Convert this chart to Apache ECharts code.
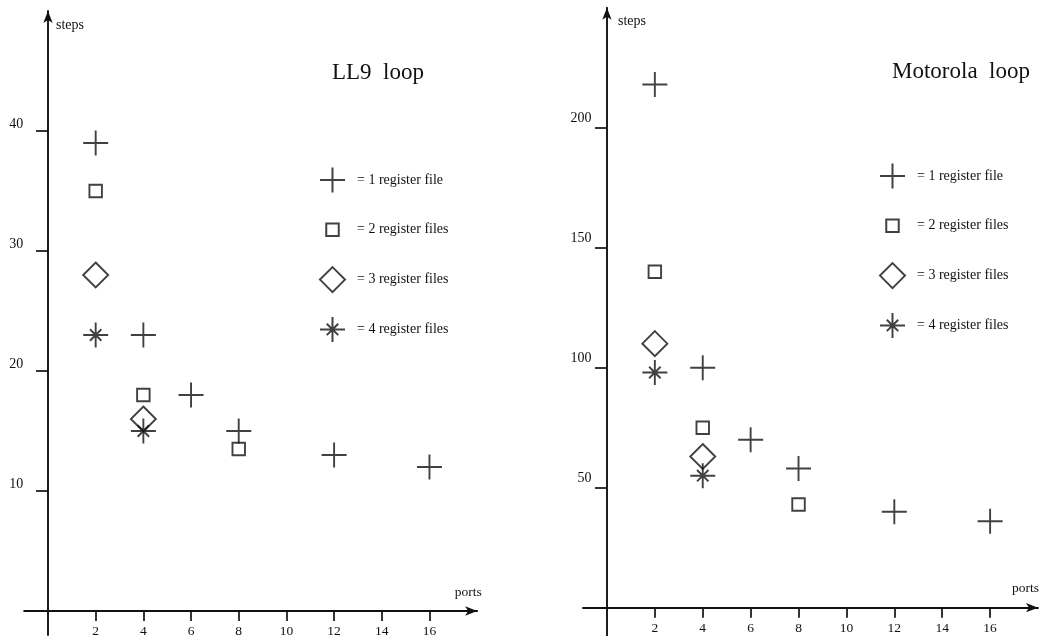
<!DOCTYPE html>
<html>
<head>
<meta charset="utf-8">
<script src="https://cdn.jsdelivr.net/npm/echarts@6/dist/echarts.min.js"></script>
<style>html,body{margin:0;padding:0;background:#fff}#c{width:1044px;height:636px}</style>
</head>
<body>
<div id="c"></div>
<script>
// ---- data ----
const seriesNames = ['= 1 register file', '= 2 register files', '= 3 register files', '= 4 register files'];
const titleLeft = 'LL9  loop';
const titleRight = 'Motorola  loop';
const xTicks = [2, 4, 6, 8, 10, 12, 14, 16];
const yTicksLeft = [10, 20, 30, 40];
const yTicksRight = [50, 100, 150, 200];

// LL9 loop
const ll9Rf1Ports = [2, 4, 6, 8, 12, 16];
const ll9Rf1Steps = [39, 23, 18, 15, 13, 12];
const ll9Rf2Ports = [2, 4, 8];
const ll9Rf2Steps = [35, 18, 13.5];
const ll9Rf3Ports = [2, 4];
const ll9Rf3Steps = [28, 16];
const ll9Rf4Ports = [2, 4];
const ll9Rf4Steps = [23, 15];

// Motorola loop
const motRf1Ports = [2, 4, 6, 8, 12, 16];
const motRf1Steps = [218, 100, 70, 58, 40, 36];
const motRf2Ports = [2, 4, 8];
const motRf2Steps = [140, 75, 43];
const motRf3Ports = [2, 4];
const motRf3Steps = [110, 63];
const motRf4Ports = [2, 4];
const motRf4Steps = [98, 55];

// ---- style ----
const FONT = '"Liberation Serif", "DejaVu Serif", serif';
const INK = '#111';
const SYMBOLS = [
  'path://M0,12H24M12,0V24',
  'path://M0,0M24,24M6,6H18V18H6Z',
  'path://M12,0L24,12L12,24L0,12Z',
  'path://M0,12H24M12,0V24M6.5,6.5L17.5,17.5M17.5,6.5L6.5,17.5'
];

function mkSeries(idx, xs, ys, gi) {
  return {
    type: 'scatter',
    name: seriesNames[idx],
    xAxisIndex: gi, yAxisIndex: gi,
    symbol: SYMBOLS[idx],
    symbolSize: 25,
    itemStyle: { color: 'rgba(255,255,255,0)', borderColor: INK, borderWidth: 1.9 },
    emphasis: { disabled: true },
    data: xs.map((x, i) => [x, ys[i]])
  };
}

function mkX(gi, nameGap, labelMargin) {
  return {
    type: 'value', gridIndex: gi, min: -1, max: 18,
    name: 'ports', nameLocation: 'end', nameGap: nameGap,
    nameTextStyle: { fontFamily: FONT, fontSize: 13.5, color: INK, align: 'right', verticalAlign: 'bottom', padding: [0, 0, 12, 0] },
    axisLine: { onZero: true, lineStyle: { color: INK, width: 1.9 }, symbol: ['none', 'arrow'], symbolSize: [7, 12] },
    axisTick: { show: true, inside: false, length: 10, lineStyle: { color: INK, width: 1.7 }, customValues: xTicks },
    axisLabel: { fontFamily: FONT, fontSize: 13.5, color: INK, margin: labelMargin, customValues: xTicks },
    splitLine: { show: false }
  };
}

function mkY(gi, min, max, ticks, labelMargin, padBottom, namePad, nameGap) {
  return {
    type: 'value', gridIndex: gi, min: min, max: max,
    name: 'steps', nameLocation: 'end', nameGap: nameGap,
    nameTextStyle: { fontFamily: FONT, fontSize: 14, color: INK, align: 'left', verticalAlign: 'top', padding: [0, 0, 0, namePad] },
    axisLine: { onZero: true, lineStyle: { color: INK, width: 1.9 }, symbol: ['none', 'arrow'], symbolSize: [7, 12] },
    axisTick: { show: true, inside: false, length: 12, lineStyle: { color: INK, width: 1.7 }, customValues: ticks },
    axisLabel: { fontFamily: FONT, fontSize: 14, color: INK, margin: labelMargin, verticalAlign: 'bottom', padding: [0, 0, padBottom, 0], customValues: ticks },
    splitLine: { show: false }
  };
}

const legendText = { fontFamily: FONT, fontSize: 14, color: INK, padding: [0, 0, 0, 7] };

const option = {
  backgroundColor: '#fff',
  animation: false,
  title: [
    { text: titleLeft, left: 327, top: 56, textStyle: { fontFamily: FONT, fontSize: 23, fontWeight: 'normal', color: INK } },
    { text: titleRight, left: 887, top: 55, textStyle: { fontFamily: FONT, fontSize: 23, fontWeight: 'normal', color: INK } }
  ],
  legend: [
    { orient: 'vertical', left: 314, top: 161.5, itemWidth: 25, itemHeight: 25, itemGap: 22.8, selectedMode: false, textStyle: legendText, data: seriesNames },
    { orient: 'vertical', left: 874, top: 157.5, itemWidth: 25, itemHeight: 25, itemGap: 22.8, selectedMode: false, textStyle: legendText, data: seriesNames }
  ],
  grid: [
    { left: 24.15, top: 11, width: 453, height: 624, containLabel: false, outerBoundsMode: 'none' },
    { left: 583, top: 7.7, width: 455, height: 628.8, containLabel: false, outerBoundsMode: 'none' }
  ],
  xAxis: [mkX(0, 4.5, -11), mkX(1, 1, -15)],
  yAxis: [
    mkY(0, -2, 50, yTicksLeft, 1, 0, 8, -7),
    mkY(1, -12, 250, yTicksRight, -8.5, 2, 11, -7)
  ],
  series: [
    mkSeries(0, ll9Rf1Ports, ll9Rf1Steps, 0),
    mkSeries(1, ll9Rf2Ports, ll9Rf2Steps, 0),
    mkSeries(2, ll9Rf3Ports, ll9Rf3Steps, 0),
    mkSeries(3, ll9Rf4Ports, ll9Rf4Steps, 0),
    mkSeries(0, motRf1Ports, motRf1Steps, 1),
    mkSeries(1, motRf2Ports, motRf2Steps, 1),
    mkSeries(2, motRf3Ports, motRf3Steps, 1),
    mkSeries(3, motRf4Ports, motRf4Steps, 1)
  ]
};

const chart = echarts.init(document.getElementById('c'), null, { renderer: 'canvas' });
chart.setOption(option);
</script>
</body>
</html>
